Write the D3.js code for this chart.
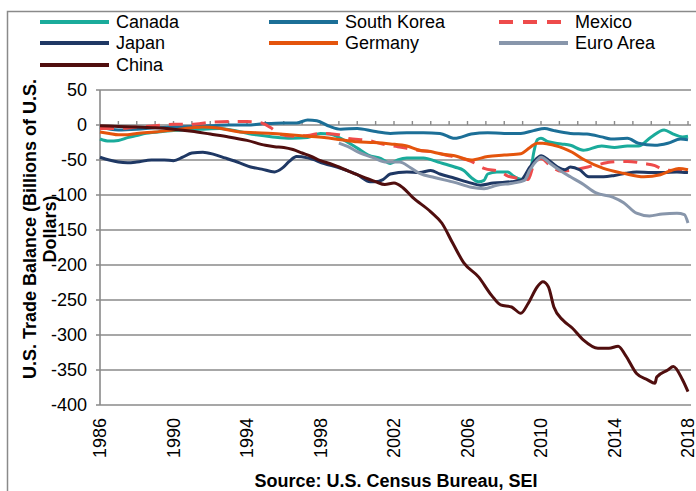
<!DOCTYPE html>
<html>
<head>
<meta charset="utf-8">
<script src="https://cdn.jsdelivr.net/npm/d3@7"></script>
<style>
  body { margin: 0; background: #fff; }
  svg { display: block; font-family: "Liberation Sans", Arial, sans-serif; }
</style>
</head>
<body>
<svg id="chart" width="696" height="491"></svg>
<script>
// trade balance, billions of US$, [year, value]
const canada = [[1986,-20],[1986.5,-23],[1987,-22],[1987.5,-18],[1988,-15],[1988.5,-12],[1989.5,-9],[1990.5,-7],[1991.5,-6],[1992.5,-5],[1993.5,-9],[1994.5,-14],[1995.4,-17],[1996.4,-19],[1997.3,-18],[1998,-12],[1998.5,-13],[1999.1,-19],[2000,-33],[2000.6,-43],[2001.3,-48],[2001.8,-55],[2002.2,-50],[2002.7,-47],[2003.6,-47],[2004.4,-53],[2005.3,-60],[2005.8,-65],[2006.2,-75],[2006.6,-81],[2006.9,-79],[2007.1,-70],[2007.6,-67],[2008.2,-67],[2008.5,-73],[2009,-78],[2009.4,-70],[2009.6,-40],[2009.8,-21],[2010,-19],[2010.4,-24],[2011.1,-27],[2011.6,-29],[2012.3,-36],[2013.3,-30],[2014,-32],[2014.7,-30],[2015.3,-30],[2016,-17],[2016.7,-7],[2017.2,-13],[2017.7,-17],[2018,-16]];
const southKorea = [[1986,-3],[1987,-7],[1988,-6],[1989,-4],[1990,-3],[1991,-2],[1992,-1],[1993,0],[1994,0],[1995,2],[1996,3],[1996.7,3],[1997.3,7],[1997.8,6],[1998.5,-2],[1999.1,-6],[2000,-5],[2000.9,-9],[2001.8,-12],[2002.7,-11],[2003.6,-11],[2004.5,-12],[2005.3,-19],[2006.2,-13],[2007.1,-11],[2008,-12],[2008.9,-12],[2009.6,-8],[2010.2,-5],[2010.7,-8],[2011.6,-12],[2012.5,-13],[2013.3,-17],[2013.8,-20],[2014.7,-19],[2015.3,-26],[2016.2,-29],[2016.9,-26],[2017.6,-20],[2018,-21]];
const mexico = [[1986,-5],[1987,-5],[1988,-3],[1989,-1],[1990,1],[1991,1],[1992,4],[1993,5],[1994,5],[1994.8,3],[1995.3,-4],[1995.8,-13],[1996.5,-16],[1997.3,-15],[1998,-12],[1999,-14],[1999.5,-19],[2000.6,-22],[2001.5,-28],[2002.2,-31],[2003.3,-36],[2004.2,-39],[2005,-44],[2005.6,-47],[2006.2,-52],[2006.9,-62],[2007.8,-67],[2008.2,-73],[2008.7,-76],[2009.3,-78],[2009.6,-57],[2010,-48],[2010.5,-58],[2011.1,-66],[2011.8,-64],[2012.9,-58],[2013.8,-53],[2014.7,-52],[2015.6,-55],[2016.2,-58],[2016.7,-64],[2017.4,-65],[2018,-64]];
const japan = [[1986,-46],[1986.5,-50],[1987,-53],[1987.5,-54],[1988,-53],[1988.8,-50],[1989.5,-50],[1990,-51],[1990.5,-46],[1991,-40],[1991.6,-39],[1992.2,-42],[1992.8,-47],[1993.6,-54],[1994.2,-60],[1994.8,-63],[1995.5,-67],[1995.9,-62],[1996.3,-52],[1996.7,-45],[1997.3,-47],[1998.2,-55],[1999.1,-62],[2000,-71],[2000.7,-81],[2001,-81],[2001.4,-78],[2001.8,-70],[2002.7,-67],[2003.4,-68],[2004,-65],[2004.5,-70],[2005.3,-76],[2006.2,-83],[2006.7,-86],[2007.4,-83],[2008.4,-81],[2008.9,-79],[2009.4,-60],[2009.8,-47],[2010,-44],[2010.4,-50],[2010.9,-60],[2011.3,-64],[2011.6,-60],[2012.1,-64],[2012.6,-74],[2013.4,-74],[2014,-72],[2014.6,-69],[2015.2,-67],[2016,-68],[2016.6,-68],[2017.4,-67],[2018,-68]];
const germany = [[1986,-10],[1986.5,-12],[1987,-14],[1987.5,-14],[1988,-12],[1989,-10],[1990,-7],[1991,-4],[1991.6,-3],[1992.3,-4],[1993,-7],[1993.6,-10],[1994.5,-11],[1995.4,-12],[1996.3,-14],[1997.3,-16],[1998.2,-18],[1999.1,-21],[2000,-24],[2000.9,-25],[2001.8,-27],[2002.7,-30],[2003.4,-36],[2004,-38],[2004.5,-41],[2005.3,-44],[2006.2,-50],[2007.1,-45],[2008,-43],[2008.9,-41],[2009.4,-32],[2009.8,-26],[2010.1,-26],[2010.7,-29],[2011.2,-33],[2011.7,-39],[2012.3,-49],[2013.4,-62],[2014.5,-69],[2015.6,-74],[2016.5,-71],[2017,-66],[2017.5,-62],[2018,-64]];
const euroArea = [[1999,-26],[1999.5,-31],[2000,-38],[2000.9,-47],[2001.6,-53],[2002.3,-53],[2002.9,-61],[2003.4,-69],[2004.2,-75],[2005.3,-82],[2006.2,-89],[2006.9,-91],[2007.6,-86],[2008.5,-83],[2009.1,-79],[2009.4,-64],[2009.8,-50],[2010,-46],[2010.5,-55],[2011.1,-66],[2011.6,-74],[2012.2,-83],[2013,-97],[2013.9,-103],[2014.5,-111],[2015.2,-126],[2015.9,-130],[2016.6,-127],[2017.4,-126],[2017.8,-128],[2018,-140]];
const china = [[1986,-1],[1987,-2],[1988,-3],[1989,-4],[1990,-6],[1991,-9],[1992,-13],[1993,-17],[1994,-22],[1995,-29],[1995.5,-31],[1996,-32],[1996.5,-35],[1997,-40],[1997.5,-45],[1998,-51],[1998.5,-55],[1999,-60],[2000,-71],[2001,-81],[2001.5,-85],[2002,-83],[2002.5,-90],[2003,-103],[2004,-124],[2004.6,-140],[2005.2,-169],[2005.8,-197],[2006.6,-217],[2007.3,-243],[2007.8,-257],[2008.4,-260],[2008.9,-269],[2009.3,-255],[2009.8,-231],[2010.1,-224],[2010.4,-231],[2010.7,-260],[2011.2,-279],[2011.7,-290],[2012.3,-307],[2013.1,-319],[2013.7,-319],[2014.2,-316],[2014.6,-329],[2015.2,-355],[2015.8,-364],[2016.2,-369],[2016.3,-360],[2016.9,-350],[2017.2,-345],[2017.7,-364],[2018,-381]];

const seriesNames = ['Canada', 'South Korea', 'Mexico', 'Japan', 'Germany', 'Euro Area', 'China'];
const seriesData = [canada, southKorea, mexico, japan, germany, euroArea, china];
const seriesColors = ['#1aab9b', '#1c6f97', '#ee4b4b', '#1f3864', '#e4540c', '#8896ab', '#500e0e'];
const yTicks = [50, 0, -50, -100, -150, -200, -250, -300, -350, -400];
const xLabels = [1986, 1990, 1994, 1998, 2002, 2006, 2010, 2014, 2018];

const svg = d3.select('#chart');
const gridColor = '#8a8a8a';

// outer frame
svg.append('rect')
  .attr('x', 7.5).attr('y', 11.5)
  .attr('width', 700).attr('height', 500)
  .attr('fill', 'none').attr('stroke', gridColor).attr('stroke-width', 1.5);

const x = d3.scaleLinear().domain([1986, 2018]).range([100, 688]);
const y = d3.scaleLinear().domain([-400, 50]).range([405, 90]);

// horizontal gridlines + y labels
const yAxis = svg.append('g');
yAxis.selectAll('line')
  .data(yTicks)
  .join('line')
  .attr('x1', 96).attr('x2', 691)
  .attr('y1', d => y(d)).attr('y2', d => y(d))
  .attr('stroke', gridColor).attr('stroke-width', 1.6);
yAxis.selectAll('text')
  .data(yTicks)
  .join('text')
  .attr('x', 87).attr('y', d => y(d))
  .attr('dy', '0.35em')
  .attr('text-anchor', 'end')
  .attr('font-size', 18)
  .attr('fill', '#000')
  .text(d => d);

// vertical axis line
svg.append('line')
  .attr('x1', 100).attr('x2', 100)
  .attr('y1', y(50)).attr('y2', y(-400))
  .attr('stroke', gridColor).attr('stroke-width', 1.6);

// category axis crosses at zero, yearly ticks pointing up
svg.append('g')
  .selectAll('line')
  .data(d3.range(1987, 2019))
  .join('line')
  .attr('x1', d => x(d)).attr('x2', d => x(d))
  .attr('y1', y(0)).attr('y2', y(0) - 4)
  .attr('stroke', gridColor).attr('stroke-width', 1.4);

// x labels at the bottom, rotated
svg.append('g')
  .selectAll('text')
  .data(xLabels)
  .join('text')
  .attr('transform', d => `translate(${x(d)},418) rotate(-90)`)
  .attr('dy', '0.35em')
  .attr('text-anchor', 'end')
  .attr('font-size', 18)
  .text(d => d);

// lines
const line = d3.line()
  .x(d => x(d[0]))
  .y(d => y(d[1]))
  .curve(d3.curveMonotoneX);

svg.append('g')
  .attr('fill', 'none')
  .attr('stroke-linejoin', 'round')
  .selectAll('path')
  .data(seriesData)
  .join('path')
  .attr('d', line)
  .attr('stroke', (d, i) => seriesColors[i])
  .attr('stroke-width', 3)
  .attr('stroke-dasharray', (d, i) => seriesNames[i] === 'Mexico' ? '14,9' : null);

// legend
const legendCols = [40, 269, 499];
const legendRows = [22, 43, 65];
const legend = svg.append('g')
  .selectAll('g')
  .data(seriesNames)
  .join('g')
  .attr('transform', (d, i) => `translate(${legendCols[i % 3]},${legendRows[Math.floor(i / 3)]})`);
legend.append('line')
  .attr('x1', 0).attr('x2', 69)
  .attr('stroke', (d, i) => seriesColors[i])
  .attr('stroke-width', 4)
  .attr('stroke-dasharray', d => d === 'Mexico' ? '14,10' : null);
legend.append('text')
  .attr('x', 76)
  .attr('dy', '0.35em')
  .attr('font-size', 18)
  .text(d => d);

// axis titles
const yTitle = svg.append('text')
  .attr('transform', 'translate(0,229) rotate(-90)')
  .attr('text-anchor', 'middle')
  .attr('font-size', 18)
  .attr('font-weight', 'bold');
yTitle.append('tspan').attr('x', 0).attr('y', 30).attr('dy', '0.35em').text('U.S. Trade Balance (Billions of U.S.');
yTitle.append('tspan').attr('x', 0).attr('y', 50).attr('dy', '0.35em').text('Dollars)');

svg.append('text')
  .attr('x', 396).attr('y', 487)
  .attr('text-anchor', 'middle')
  .attr('font-size', 18)
  .attr('font-weight', 'bold')
  .text('Source: U.S. Census Bureau, SEI');
</script>
</body>
</html>
